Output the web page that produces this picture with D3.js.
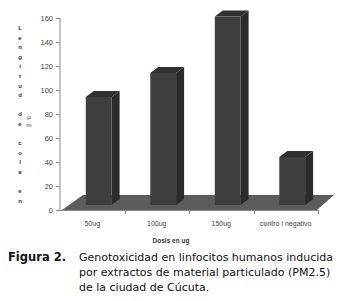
<!DOCTYPE html>
<meta charset="utf-8">
<style>
  body { margin: 0; background: #fff; }
  text { font-family: "Liberation Sans", Arial, sans-serif; }
  text.cap { font-family: "DejaVu Sans", Verdana, sans-serif; }
</style>
<script src="https://d3js.org/d3.v7.min.js"></script>
<body>
<div id="chart"></div>
<script>

  var categories = ["50ug", "100ug", "150ug", "contro l negativo"];
  var values = [90, 110, 157, 40];
  var yTicks = [0, 20, 40, 60, 80, 100, 120, 140, 160];
  var yTitle = ["L", "e", "n", "g", "i", "t", "u", "d", "", "d", "e", "", "c", "o", "l", "a", "", "e", "n"];
  var unit = ["µ", "m"];
  var caption = ["Genotoxicidad en linfocitos humanos inducida",
                 "por extractos de material particulado (PM2.5)",
                 "de la ciudad de Cúcuta."];

  var width = 343,
      height = 301;

  var svg = d3.select("#chart")
      .append("svg")
        .attr("width", width)
        .attr("height", height);

  var x = d3.scaleBand()
      .domain(categories)
      .range([60, 318]);

  var y = d3.scaleLinear()
      .domain([0, 160])
      .range([210, 18]);

  // floor
  var y0 = y(0);
  svg.append("path")
      .attr("d", "M62," + y0 + "L317," + y0 + "L334," + (y0 - 15) + "L83," + (y0 - 15) + "Z")
      .attr("fill", "#5c5c5c");

  // axes
  svg.append("line")
      .attr("x1", 60).attr("x2", 60)
      .attr("y1", y(160)).attr("y2", y0)
      .attr("stroke", "#8c8c8c");

  svg.append("line")
      .attr("x1", 60).attr("x2", 318)
      .attr("y1", y0 + 0.5).attr("y2", y0 + 0.5)
      .attr("stroke", "#8c8c8c");

  svg.selectAll(".ytick")
    .data(yTicks)
    .enter().append("line")
      .attr("x1", 56).attr("x2", 60)
      .attr("y1", function(d) { return Math.round(y(d)) + 0.5; })
      .attr("y2", function(d) { return Math.round(y(d)) + 0.5; })
      .attr("stroke", "#8c8c8c");

  svg.selectAll(".ylabel")
    .data(yTicks)
    .enter().append("text")
      .attr("x", 53)
      .attr("y", function(d) { return y(d); })
      .attr("dy", "0.35em")
      .attr("text-anchor", "end")
      .attr("font-size", "7.5px")
      .attr("fill", "#444")
      .text(function(d) { return d; });

  var seps = x.domain().slice(1).map(function(d) { return x(d); }).concat([318]);
  svg.selectAll(".xtick")
    .data(seps)
    .enter().append("line")
      .attr("x1", function(d) { return Math.round(d) + 0.5; })
      .attr("x2", function(d) { return Math.round(d) + 0.5; })
      .attr("y1", y0).attr("y2", y0 + 4)
      .attr("stroke", "#8c8c8c");

  svg.selectAll(".xlabel")
    .data(categories)
    .enter().append("text")
      .attr("x", function(d) { return x(d) + x.bandwidth() / 2; })
      .attr("y", 226)
      .attr("text-anchor", "middle")
      .attr("font-size", "7px")
      .attr("fill", "#444")
      .text(function(d) { return d; });

  // bars
  var dx = 8, dy = 6, lift = 5;
  var bar = svg.selectAll(".bar")
    .data(values)
    .enter().append("g");

  function bx(d, i) { return x(categories[i]) + x.bandwidth() * 0.4; }
  var bw = x.bandwidth() * 0.4;

  bar.append("path")
      .attr("fill", "#2b2b2b")
      .attr("d", function(d, i) {
        var a = bx(d, i) + bw, t = y(d) - lift, b = y0 - lift;
        return "M" + a + "," + t + "L" + (a + dx) + "," + (t - dy) + "L" + (a + dx) + "," + (b - dy) + "L" + a + "," + b + "Z";
      });

  bar.append("path")
      .attr("fill", "#303030")
      .attr("d", function(d, i) {
        var a = bx(d, i), t = y(d) - lift;
        return "M" + a + "," + t + "L" + (a + dx) + "," + (t - dy) + "L" + (a + bw + dx) + "," + (t - dy) + "L" + (a + bw) + "," + t + "Z";
      });

  bar.append("rect")
      .attr("x", bx)
      .attr("y", function(d) { return y(d) - lift; })
      .attr("width", bw)
      .attr("height", function(d) { return y0 - y(d); })
      .attr("fill", "#3e3e3e");

  // y title, stacked letters
  svg.selectAll(".ytitle")
    .data(yTitle)
    .enter().append("text")
      .attr("x", 20)
      .attr("y", function(d, i) { return 30 + i * 9.6; })
      .attr("text-anchor", "middle")
      .attr("font-size", "6px")
      .attr("font-weight", "bold")
      .attr("fill", "#333")
      .text(function(d) { return d; });

  svg.selectAll(".unit")
    .data(unit)
    .enter().append("text")
      .attr("x", 29)
      .attr("y", function(d, i) { return 119 + i * 8; })
      .attr("text-anchor", "middle")
      .attr("font-size", "6px")
      .attr("fill", "#333")
      .text(function(d) { return d; });

  svg.append("text")
      .attr("x", 171)
      .attr("y", 243)
      .attr("text-anchor", "middle")
      .attr("font-size", "6.5px")
      .attr("font-weight", "bold")
      .attr("fill", "#333")
      .text("Dosis en ug");

  // caption
  svg.append("text")
      .attr("class", "cap")
      .attr("x", 8)
      .attr("y", 261)
      .attr("font-size", "11.5px")
      .attr("font-weight", "bold")
      .attr("fill", "#111")
      .text("Figura 2.");

  svg.selectAll(".capline")
    .data(caption)
    .enter().append("text")
      .attr("class", "cap")
      .attr("x", 79)
      .attr("y", function(d, i) { return 261 + i * 15; })
      .attr("font-size", "11px")
      .attr("fill", "#111")
      .text(function(d) { return d; });

</script>
</body>
